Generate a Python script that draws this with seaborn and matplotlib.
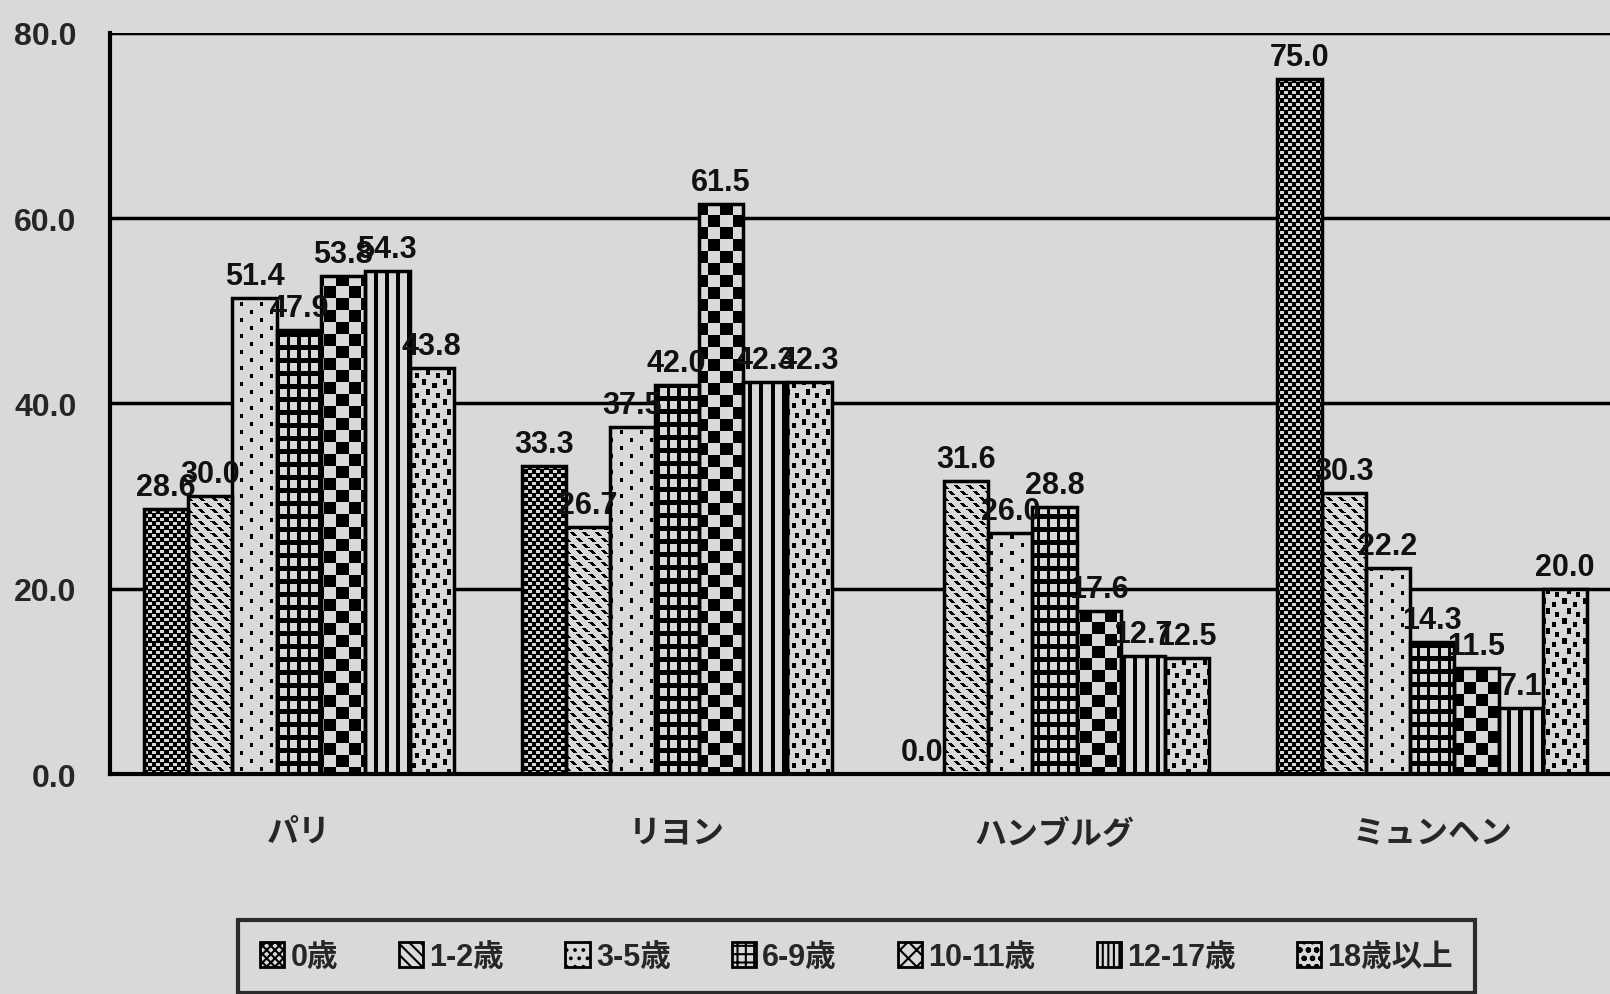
import matplotlib
matplotlib.use("Agg")
import matplotlib.pyplot as plt
import seaborn as sns
import pandas as pd
import numpy as np
from matplotlib.patches import Patch
from matplotlib.ticker import FixedLocator

# data
cities = ["パリ", "リヨン", "ハンブルグ", "ミュンヘン"]
ages = ["0歳", "1-2歳", "3-5歳", "6-9歳", "10-11歳", "12-17歳", "18歳以上"]
age_0 = [28.6, 33.3, 0.0, 75.0]
age_1_2 = [30.0, 26.7, 31.6, 30.3]
age_3_5 = [51.4, 37.5, 26.0, 22.2]
age_6_9 = [47.9, 42.0, 28.8, 14.3]
age_10_11 = [53.8, 61.5, 17.6, 11.5]
age_12_17 = [54.3, 42.3, 12.7, 7.1]
age_18 = [43.8, 42.3, 12.5, 20.0]
yticks = [0, 20, 40, 60, 80]

series = [age_0, age_1_2, age_3_5, age_6_9, age_10_11, age_12_17, age_18]
rows = []
for age, vals in zip(ages, series):
    for city, v in zip(cities, vals):
        rows.append({"city": city, "age": age, "value": v})
df = pd.DataFrame(rows)

bg = "#d9d9d9"
bg_rgb = np.array([0xd9, 0xd9, 0xd9]) / 255.0


# black/white fill tiles (1 = black), one per age group, Excel style patterns
def tile_checker(cell):
    r, c = np.indices((2 * cell, 2 * cell))
    return ((r // cell + c // cell) % 2).astype(float)


def tile_fine():
    r, c = np.indices((8, 8))
    white = ((r // 4 + c // 4) % 2 == 0) & (r % 4 < 3)
    return (~white).astype(float)


def tile_diag():
    r, c = np.indices((12, 12))
    return ((((c - r) % 12) < 4) & ((r % 6) < 4)).astype(float)


def tile_dots():
    t = np.zeros((16, 20))
    t[0:4, 0:3] = 1
    t[8:12, 10:13] = 1
    return t


def tile_grid():
    r, c = np.indices((13, 10))
    return ((r % 13 >= 8) | (c % 10 >= 7)).astype(float)


def tile_vlines():
    r, c = np.indices((4, 11))
    return (c < 4).astype(float)


def tile_confetti():
    t = np.zeros((20, 20))
    t[0:6, 2:6] = 1
    t[4:9, 12:16] = 1
    t[10:16, 6:10] = 1
    t[14:19, 15:19] = 1
    return t


tiles = [tile_fine(), tile_diag(), tile_dots(), tile_grid(),
         tile_checker(12), tile_vlines(), tile_confetti()]
legend_hatches = ["xxxx", "\\\\\\", "..", "++", "xx", "|||", "oo"]

sns.set_theme(style="white")
plt.rcParams["font.family"] = ["Liberation Sans", "Noto Sans CJK JP", "DejaVu Sans"]
plt.rcParams["font.weight"] = "bold"
plt.rcParams["hatch.linewidth"] = 1.5
plt.rcParams["hatch.color"] = "black"

W, H = 1610, 995
fig = plt.figure(figsize=(W / 100, H / 100), dpi=100, facecolor=bg)
ax = fig.add_axes([0.0683, 0.221, 0.9387, 0.745])
ax.set_facecolor(bg)

sns.barplot(data=df, x="city", y="value", hue="age", order=cities, hue_order=ages,
            palette=[bg] * len(ages), width=0.82, gap=0, edgecolor="black",
            linewidth=2.5, saturation=1, errorbar=None, legend=False, ax=ax)

ax.set_ylim(0, 80)
ax.set_xlim(-0.5, 3.5)

for cont, tile in zip(ax.containers, tiles):
    th, tw = tile.shape
    for bar in cont:
        bar.set_facecolor("none")
        bar.set_zorder(3)
        x0, w, h = bar.get_x(), bar.get_width(), bar.get_height()
        if h <= 0:
            continue
        (px0, py0), (px1, py1) = ax.transData.transform([(x0, 0), (x0 + w, h)])
        left, right = int(round(px0)), int(round(px1))
        top, bottom = int(round(H - py1)), int(round(H - py0))
        rr, cc = np.indices((bottom - top, right - left))
        mask = tile[(rr + top) % th, (cc + left) % tw]
        img = np.where(mask[..., None] > 0.5, 0.0, bg_rgb[None, None, :])
        im = ax.imshow(img, extent=(x0, x0 + w, 0, h), origin="upper",
                       interpolation="nearest", aspect="auto", zorder=2)
        im.set_clip_path(bar)
    ax.bar_label(cont, fmt="%.1f", padding=5, fontsize=22, color="#111111", zorder=4)

ax.set_ylim(0, 80)
ax.set_xlim(-0.5, 3.5)
ax.set_yticks(yticks)
ax.set_yticklabels([f"{t:.1f}" for t in yticks], fontsize=23)
ax.yaxis.grid(True, color="black", linewidth=2.5)
ax.set_axisbelow(True)
ax.tick_params(axis="y", length=0, pad=24)
ax.tick_params(axis="x", which="major", length=0, pad=32, labelsize=23)
ax.xaxis.set_minor_locator(FixedLocator([0.5, 1.5, 2.5]))
ax.tick_params(axis="x", which="minor", direction="in", length=9, width=2, color="black")
ax.set_xlabel("")
ax.set_ylabel("")
for side in ["top", "right"]:
    ax.spines[side].set_visible(False)
for side in ["left", "bottom"]:
    ax.spines[side].set_color("black")
    ax.spines[side].set_linewidth(3)
    ax.spines[side].set_zorder(5)

handles = [Patch(facecolor=bg, edgecolor="black", hatch=h, linewidth=2) for h in legend_hatches]
leg = fig.legend(handles, ages, loc="upper center", bbox_to_anchor=(0.532, 0.074),
                 ncol=7, fontsize=22, frameon=True, fancybox=False, edgecolor="black",
                 facecolor=bg, handlelength=0.8, handleheight=0.9, handletextpad=0.2,
                 columnspacing=2.0, borderpad=0.7, borderaxespad=0)
leg.get_frame().set_linewidth(3)

fig.savefig("out.png", dpi=100, facecolor=bg)
